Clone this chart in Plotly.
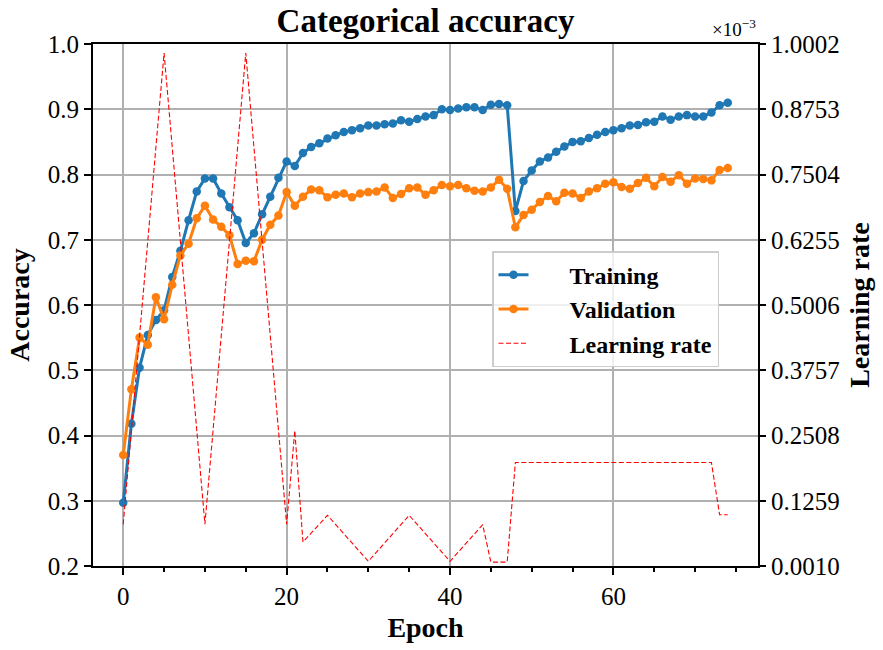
import plotly.graph_objects as go

epochs = list(range(75))
training = [0.297, 0.418, 0.504, 0.554, 0.577, 0.592, 0.643, 0.683, 0.730, 0.774,
            0.794, 0.794, 0.771, 0.750, 0.730, 0.695, 0.710, 0.739, 0.766, 0.795,
            0.820, 0.813, 0.833, 0.842, 0.848, 0.855, 0.860, 0.865, 0.868, 0.871,
            0.875, 0.875, 0.877, 0.878, 0.883, 0.881, 0.885, 0.889, 0.891, 0.900,
            0.899, 0.901, 0.903, 0.903, 0.899, 0.907, 0.908, 0.906, 0.744, 0.790,
            0.806, 0.820, 0.826, 0.835, 0.843, 0.850, 0.851, 0.856, 0.861, 0.865,
            0.868, 0.871, 0.875, 0.876, 0.880, 0.881, 0.889, 0.884, 0.889, 0.891,
            0.889, 0.889, 0.895, 0.906, 0.910]
validation = [0.370, 0.471, 0.550, 0.539, 0.612, 0.578, 0.631, 0.676, 0.694, 0.733,
              0.752, 0.731, 0.720, 0.707, 0.663, 0.668, 0.667, 0.700, 0.723, 0.737,
              0.773, 0.752, 0.766, 0.777, 0.776, 0.765, 0.769, 0.771, 0.765, 0.771,
              0.773, 0.774, 0.780, 0.764, 0.770, 0.779, 0.780, 0.769, 0.776, 0.784,
              0.782, 0.784, 0.779, 0.775, 0.774, 0.780, 0.792, 0.778, 0.719, 0.738,
              0.746, 0.758, 0.767, 0.759, 0.772, 0.771, 0.764, 0.774, 0.779, 0.786,
              0.788, 0.781, 0.778, 0.787, 0.795, 0.782, 0.796, 0.789, 0.799, 0.786,
              0.794, 0.793, 0.791, 0.807, 0.810]
# learning rate (units of 1e-3), at the epochs where the curve changes direction
lr_epochs = [0, 5, 10, 15, 20, 21, 22, 25, 30, 35, 40, 44, 45, 47, 48, 72, 73, 74]
lr_values = [0.081, 0.983, 0.081, 0.983, 0.081, 0.260, 0.047, 0.098, 0.010, 0.098,
             0.010, 0.080, 0.0085, 0.0085, 0.199, 0.199, 0.099, 0.099]

acc_ticks = [0.2, 0.3, 0.4, 0.5, 0.6, 0.7, 0.8, 0.9, 1.0]
acc_ticktext = ["0.2", "0.3", "0.4", "0.5", "0.6", "0.7", "0.8", "0.9", "1.0"]
lr_ticks = [0.0010, 0.1259, 0.2508, 0.3757, 0.5006, 0.6255, 0.7504, 0.8753, 1.0002]
lr_ticktext = ["0.0010", "0.1259", "0.2508", "0.3757", "0.5006", "0.6255", "0.7504", "0.8753", "1.0002"]
epoch_ticks = [0, 20, 40, 60]

SERIF = "Liberation Serif"
TICK_FONT = dict(family=SERIF, size=25, color="black")
LABEL_FONT = dict(family=SERIF, size=28, color="black")
PAD = "\u2003\u2002"

fig = go.Figure()
fig.add_trace(go.Scatter(x=epochs, y=training, name=PAD + "<b>Training</b>", mode="lines+markers",
                         line=dict(color="#1f77b4", width=3), marker=dict(size=8.5, color="#1f77b4")))
fig.add_trace(go.Scatter(x=epochs, y=validation, name=PAD + "<b>Validation</b>", mode="lines+markers",
                         line=dict(color="#ff7f0e", width=3), marker=dict(size=8.5, color="#ff7f0e")))
fig.add_trace(go.Scatter(x=lr_epochs, y=lr_values, name=PAD + "<b>Learning rate</b>", mode="lines",
                         line=dict(color="red", width=1.1, dash="5px,2.5px"), yaxis="y2"))

fig.update_layout(
    width=883, height=650,
    margin=dict(l=93, r=125, t=44, b=75),
    paper_bgcolor="white", plot_bgcolor="white",
    showlegend=True,
    legend=dict(x=0.6, y=0.603, xanchor="left", yanchor="top",
                bgcolor="rgba(255,255,255,0.8)", bordercolor="#cccccc", borderwidth=1.5,
                font=dict(family=SERIF, size=24, color="black"), tracegroupgap=0),
    title=dict(text="<b>Categorical accuracy</b>", x=0.5, xref="paper", xanchor="center",
               y=0.968, yanchor="middle", font=dict(family=SERIF, size=33, color="black")),
    xaxis=dict(range=[-3.7, 77.7], tickvals=epoch_ticks, ticks="outside", ticklen=7, tickwidth=1.5,
               tickcolor="black", showline=True, linecolor="black", linewidth=2, mirror=True,
               showgrid=True, gridcolor="#b0b0b0", gridwidth=1.5, zeroline=False,
               tickfont=TICK_FONT,
               minor=dict(dtick=5, tick0=0, ticks="outside", ticklen=4, tickcolor="black", showgrid=False),
               title=dict(text="<b>Epoch</b>", font=LABEL_FONT, standoff=8)),
    yaxis=dict(range=[0.2, 1.0], tickvals=acc_ticks, ticktext=acc_ticktext, ticks="outside", ticklen=7,
               tickwidth=1.5, tickcolor="black", showline=True, linecolor="black", linewidth=2, mirror=True,
               showgrid=True, gridcolor="#b0b0b0", gridwidth=1.5, zeroline=False, tickfont=TICK_FONT,
               title=dict(text="<b>Accuracy</b>", font=LABEL_FONT, standoff=10)),
    yaxis2=dict(range=[0.0010, 1.0002], tickvals=lr_ticks, ticktext=lr_ticktext, overlaying="y", side="right",
                ticks="outside", ticklen=7, tickwidth=1.5, tickcolor="black", showline=False,
                showgrid=False, zeroline=False, tickfont=TICK_FONT,
                title=dict(text="<b>Learning rate</b>", font=LABEL_FONT, standoff=10)),
    annotations=[dict(text="×10<sup>−3</sup>", xref="paper", yref="paper", x=1.0, y=1.0,
                      xanchor="right", yanchor="bottom", yshift=2, showarrow=False,
                      font=dict(family=SERIF, size=19, color="black"))],
)

fig.write_html("out.html")
